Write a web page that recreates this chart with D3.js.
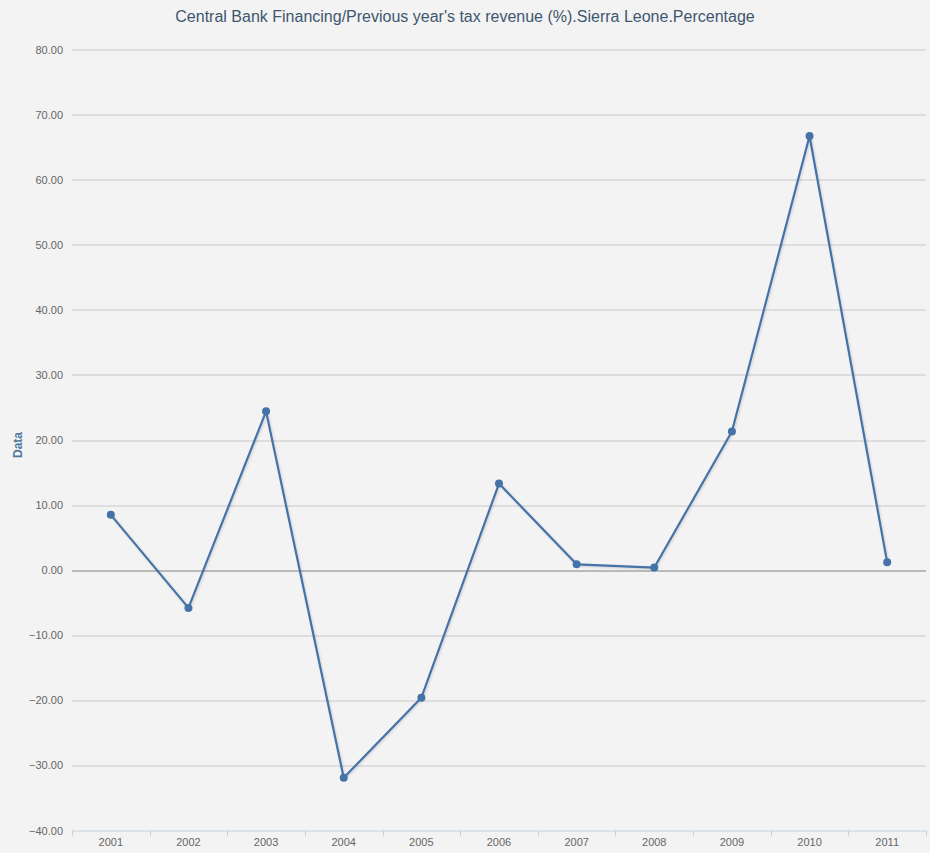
<!DOCTYPE html>
<html>
<head>
<meta charset="utf-8">
<script src="https://cdn.jsdelivr.net/npm/d3@7"></script>
<style>
    body { margin: 0; background: #f3f3f3; }
    svg { display: block; font-family: "Liberation Sans", Arial, sans-serif; }
</style>
</head>
<body>
<svg id="chart"></svg>
<script>
const years = ["2001", "2002", "2003", "2004", "2005", "2006", "2007", "2008", "2009", "2010", "2011"];
const values = [8.5, -5.8, 24.4, -31.9, -19.6, 13.3, 0.9, 0.4, 21.3, 66.7, 1.2];
const yTicks = [-40, -30, -20, -10, 0, 10, 20, 30, 40, 50, 60, 70, 80];
const title = "Central Bank Financing/Previous year's tax revenue (%).Sierra Leone.Percentage";

const width = 930, height = 853;
const margin = { top: 49.5, right: 4, bottom: 22.5, left: 72 };
const innerW = width - margin.left - margin.right;
const innerH = height - margin.top - margin.bottom;

const svg = d3.select("#chart").attr("width", width).attr("height", height);

svg.append("rect").attr("width", width).attr("height", height).attr("fill", "#f3f3f3");

const defs = svg.append("defs");
const shadow = defs.append("filter").attr("id", "shadow")
    .attr("x", "-5%").attr("y", "-5%").attr("width", "110%").attr("height", "110%");
shadow.append("feDropShadow")
    .attr("dx", 1).attr("dy", 1).attr("stdDeviation", 1)
    .attr("flood-color", "#000").attr("flood-opacity", 0.15);

const xScale = d3.scaleBand().domain(years).range([0, innerW]);
const yScale = d3.scaleLinear().domain([-40, 80]).range([innerH, 0]);

const g = svg.append("g").attr("transform", `translate(${margin.left}, ${margin.top})`);

// grid lines
g.selectAll("line.grid")
    .data(yTicks)
    .join("line")
    .attr("class", "grid")
    .attr("x1", 0).attr("x2", innerW)
    .attr("y1", d => Math.round(yScale(d)) + 0.5)
    .attr("y2", d => Math.round(yScale(d)) + 0.5)
    .attr("stroke", d => d === 0 ? "#808080" : (d === -40 ? "#c0d0e0" : "#c8c8c8"))
    .attr("stroke-width", 1);

// y tick labels
g.selectAll("text.ylab")
    .data(yTicks)
    .join("text")
    .attr("class", "ylab")
    .attr("x", -9)
    .attr("y", d => yScale(d) + 4)
    .attr("text-anchor", "end")
    .attr("fill", "#666")
    .style("font-size", "11px")
    .text(d => d3.format(".2f")(d));

// x axis
const xAxis = g.append("g").attr("transform", `translate(0, ${innerH})`);
const bounds = years.map(d => xScale(d)).concat([innerW]);
xAxis.selectAll("line.tick")
    .data(bounds)
    .join("line")
    .attr("class", "tick")
    .attr("x1", d => Math.round(d) + 0.5).attr("x2", d => Math.round(d) + 0.5)
    .attr("y1", 0).attr("y2", 5)
    .attr("stroke", "#c0d0e0");
xAxis.selectAll("text")
    .data(years)
    .join("text")
    .attr("x", d => xScale(d) + xScale.bandwidth() / 2)
    .attr("y", 15.5)
    .attr("text-anchor", "middle")
    .attr("fill", "#666")
    .style("font-size", "11px")
    .text(d => d);

// y axis title
svg.append("text")
    .attr("transform", `translate(22, 445) rotate(-90)`)
    .attr("text-anchor", "middle")
    .attr("fill", "#4d759e")
    .style("font-size", "12px")
    .style("font-weight", "bold")
    .text("Data");

// title
svg.append("text")
    .attr("x", width / 2)
    .attr("y", 22)
    .attr("text-anchor", "middle")
    .attr("fill", "#3e576f")
    .style("font-size", "16px")
    .text(title);

// line + markers
const cx = d => xScale(d) + xScale.bandwidth() / 2;
const line = d3.line()
    .x((d, i) => cx(years[i]))
    .y(d => yScale(d));

g.append("path")
    .datum(values)
    .attr("d", line)
    .attr("fill", "none")
    .attr("stroke", "#4572a7")
    .attr("stroke-width", 2.2)
    .attr("stroke-linejoin", "round")
    .attr("filter", "url(#shadow)");

g.selectAll("circle")
    .data(values)
    .join("circle")
    .attr("cx", (d, i) => cx(years[i]))
    .attr("cy", d => yScale(d))
    .attr("r", 4)
    .attr("fill", "#4572a7");
</script>
</body>
</html>
